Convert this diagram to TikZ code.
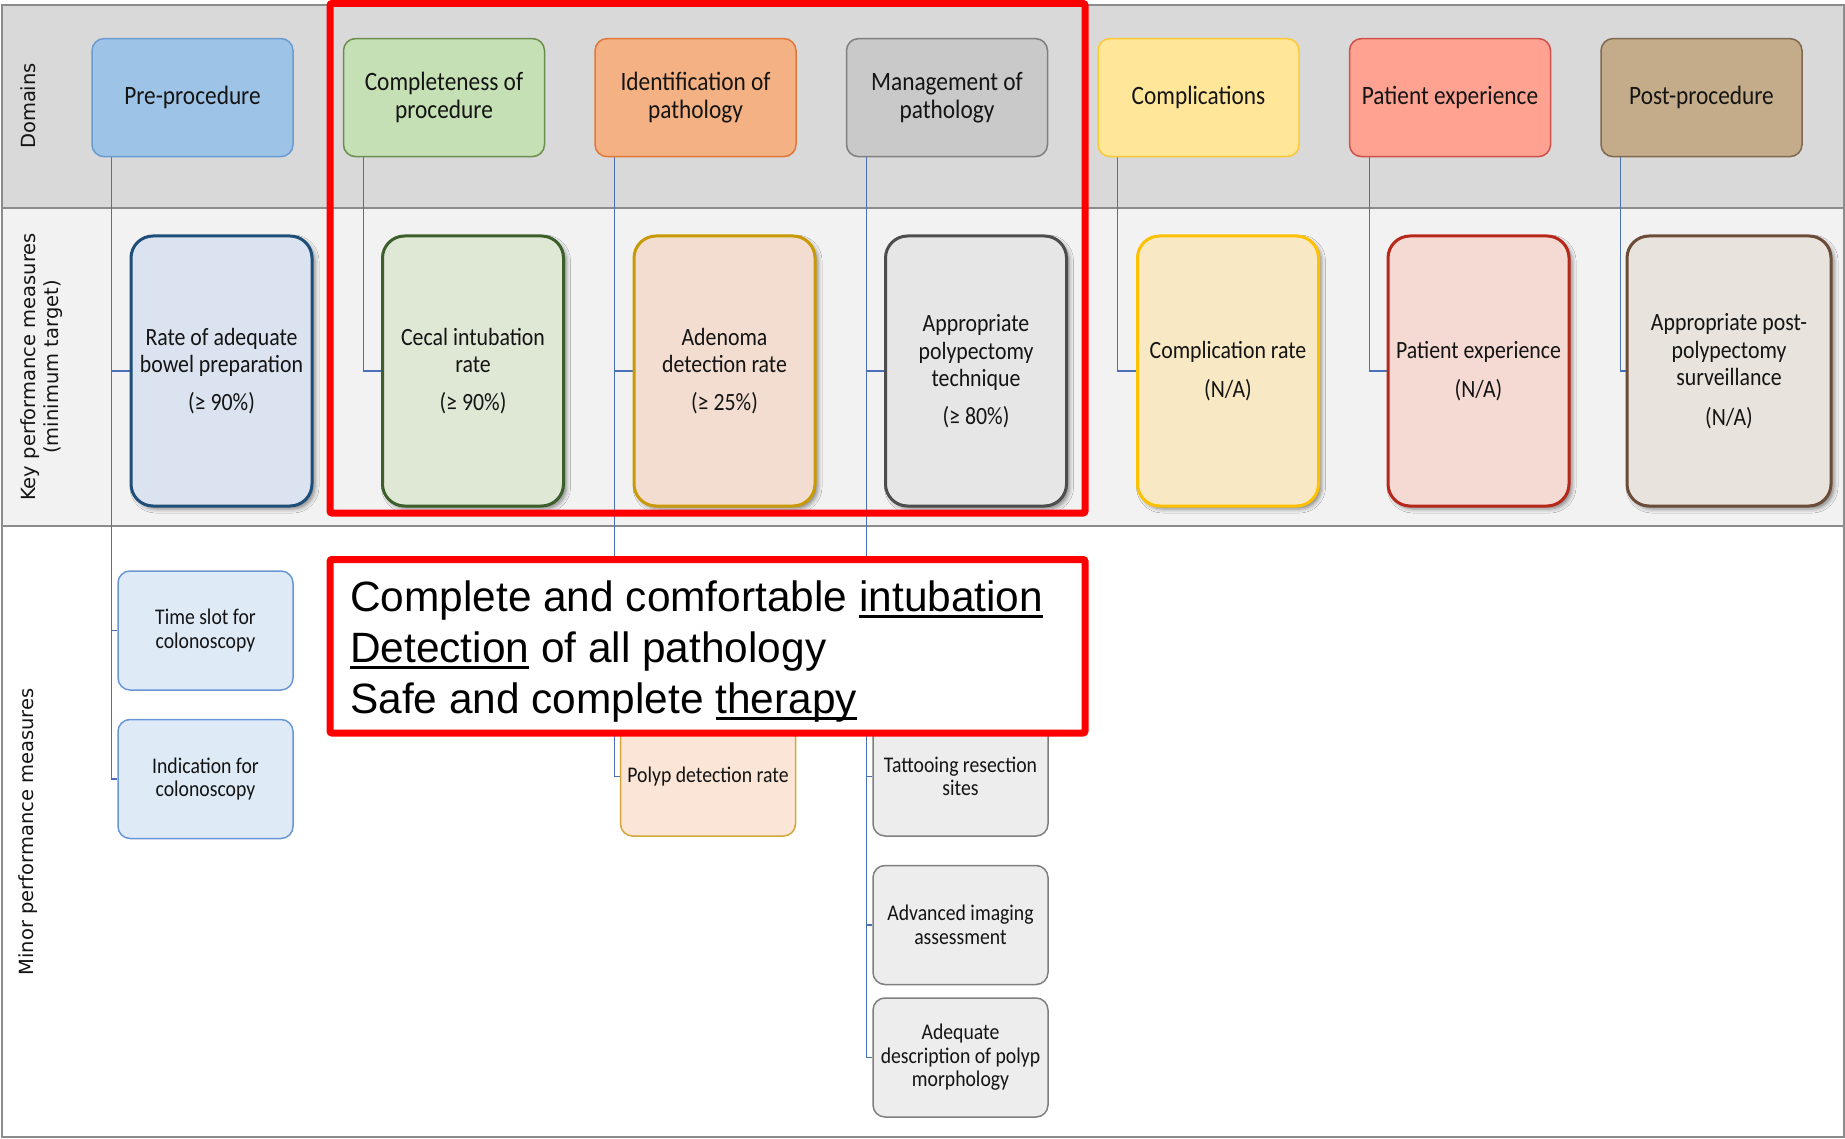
\documentclass[tikz,border=0pt]{standalone}
\usepackage{fontspec}
\setmainfont{Carlito}[FakeStretch=0.88]
\newfontfamily\sidelabelfont{DejaVu Sans}
\newfontfamily\calloutfont{Liberation Sans}
\usetikzlibrary{shadows.blur,backgrounds}

\definecolor{bandA}{HTML}{D9D9D9}
\definecolor{bandB}{HTML}{F2F2F2}
\definecolor{sepgray}{HTML}{8C8C8C}
\definecolor{txt}{HTML}{141414}
\definecolor{connblue}{HTML}{4A70B8}
\definecolor{hired}{HTML}{FF0000}
% domain colours
\definecolor{dAf}{HTML}{9DC3E6}\definecolor{dAd}{HTML}{6A9BD1}
\definecolor{dBf}{HTML}{C5E0B4}\definecolor{dBd}{HTML}{6B8E4E}
\definecolor{dCf}{HTML}{F4B183}\definecolor{dCd}{HTML}{E0783A}
\definecolor{dDf}{HTML}{C9C9C9}\definecolor{dDd}{HTML}{7F7F7F}
\definecolor{dEf}{HTML}{FFE699}\definecolor{dEd}{HTML}{FFC935}
\definecolor{dFf}{HTML}{FFA291}\definecolor{dFd}{HTML}{D0504A}
\definecolor{dGf}{HTML}{C4AC8A}\definecolor{dGd}{HTML}{7F6A50}
% key colours
\definecolor{kAf}{HTML}{DAE3EF}\definecolor{kAd}{HTML}{1F4E79}
\definecolor{kBf}{HTML}{DEE8D4}\definecolor{kBd}{HTML}{3C5F2C}
\definecolor{kCf}{HTML}{F2DDD0}\definecolor{kCd}{HTML}{C99A06}
\definecolor{kDf}{HTML}{E6E6E6}\definecolor{kDd}{HTML}{4D4D4D}
\definecolor{kEf}{HTML}{F8E8C3}\definecolor{kEd}{HTML}{FFC000}
\definecolor{kFf}{HTML}{F5DAD3}\definecolor{kFd}{HTML}{B8281A}
\definecolor{kGf}{HTML}{E8E3DD}\definecolor{kGd}{HTML}{6A4C38}
% minor colours
\definecolor{mAf}{HTML}{DEEBF7}\definecolor{mAd}{HTML}{6A96D8}
\definecolor{mCf}{HTML}{FBE5D6}\definecolor{mCd}{HTML}{D4A73A}
\definecolor{mDf}{HTML}{EDEDED}\definecolor{mDd}{HTML}{7F7F7F}

\newcommand\calloutul[1]{\leavevmode\setbox0\hbox{#1}\rlap{\rule[-6.5pt]{\wd0}{3pt}}\box0\relax}

\begin{document}
\begin{tikzpicture}[x=1pt,y=-1pt,
  dombox/.style={rounded corners=12pt, line width=1.5pt, minimum width=201pt, minimum height=118pt,
     align=center, inner sep=3pt, text=txt, font=\fontsize{26.5}{28.6}\selectfont},
  keybox/.style={rounded corners=22pt, line width=3pt, minimum width=181pt, minimum height=270pt,
     align=center, inner sep=3pt, text=txt, font=\fontsize{24.8}{27.5}\selectfont,
     blur shadow={shadow xshift=3pt, shadow yshift=-3pt, shadow blur radius=4pt, shadow opacity=45}},
  minbox/.style={rounded corners=12pt, line width=1.5pt, minimum width=175pt, minimum height=119pt,
     align=center, inner sep=3pt, text=txt, font=\fontsize{22.4}{23.5}\selectfont},
  sidelabel/.style={rotate=90, align=center, text=txt, font=\sidelabelfont\fontsize{19.5}{23}\selectfont},
  conn/.style={draw=connblue, line width=1.3pt},
  calloutbox/.style={draw=hired, line width=7pt, fill=white, rounded corners=2pt, outer sep=0pt, inner sep=0pt},
  callouttext/.style={anchor=base west, inner sep=0pt, text=black, font=\calloutfont\fontsize{42.4}{51}\selectfont}
]
\useasboundingbox (0,0) rectangle (1845,1139);

% ---------- side labels ----------
\node[sidelabel] (labdom) at (28,106) {Domains};
\node[sidelabel] (labkey) at (42,367) {Key performance measures\\(minimum target)};
\node[sidelabel] (labmin) at (28,832) {Minor performance measures};

% ---------- domains ----------
\node[dombox, fill=dAf, draw=dAd] (d1) at (192.5,97.6) {Pre-procedure};
\node[dombox, fill=dBf, draw=dBd] (d2) at (444,97.6) {Completeness of\\procedure};
\node[dombox, fill=dCf, draw=dCd] (d3) at (695.5,97.6) {Identification of\\pathology};
\node[dombox, fill=dDf, draw=dDd] (d4) at (947,97.6) {Management of\\pathology};
\node[dombox, fill=dEf, draw=dEd] (d5) at (1198.5,97.6) {Complications};
\node[dombox, fill=dFf, draw=dFd] (d6) at (1450,97.6) {Patient experience};
\node[dombox, fill=dGf, draw=dGd] (d7) at (1701.5,97.6) {Post-procedure};

% ---------- key performance measures ----------
\node[keybox, fill=kAf, draw=kAd] (k1) at (221.5,371) {Rate of adequate\\bowel preparation\\[10pt](≥ 90\%)};
\node[keybox, fill=kBf, draw=kBd] (k2) at (473,371) {Cecal intubation\\rate\\[10pt](≥ 90\%)};
\node[keybox, fill=kCf, draw=kCd] (k3) at (724.5,371) {Adenoma\\detection rate\\[10pt](≥ 25\%)};
\node[keybox, fill=kDf, draw=kDd] (k4) at (976,371) {Appropriate\\polypectomy\\technique\\[10pt](≥ 80\%)};
\node[keybox, fill=kEf, draw=kEd] (k5) at (1228,371) {Complication rate\\[12pt](N/A)};
\node[keybox, fill=kFf, draw=kFd] (k6) at (1478.5,371) {Patient experience\\[12pt](N/A)};
\node[keybox, fill=kGf, draw=kGd, minimum width=204pt] (k7) at (1729,371) {Appropriate post-\\polypectomy\\surveillance\\[12pt](N/A)};

% ---------- minor performance measures ----------
\node[minbox, fill=mAf, draw=mAd] (m1) at (205.5,630.5) {Time slot for\\colonoscopy};
\node[minbox, fill=mAf, draw=mAd] (m2) at (205.5,779) {Indication for\\colonoscopy};
\node[minbox, fill=mCf, draw=mCd] (m3) at (708,776.5) {Polyp detection rate};
\node[minbox, fill=mDf, draw=mDd] (m4) at (960.5,776.5) {Tattooing resection\\sites};
\node[minbox, fill=mDf, draw=mDd] (m5) at (960.5,925) {Advanced imaging\\assessment};
\node[minbox, fill=mDf, draw=mDd] (m6) at (960.5,1057.5) {Adequate\\description of polyp\\morphology};

% ---------- background: bands and connectors ----------
\begin{scope}[on background layer]
  \fill[bandA] (2,5) rectangle (1844,208);
  \fill[bandB] (2,208) rectangle (1844,526);
  \fill[white] (2,526) rectangle (1844,1137);
  \draw[sepgray, line width=1.5pt] (2,208) -- (1844,208);
  \draw[sepgray, line width=1.5pt] (2,526) -- (1844,526);
  \draw[sepgray, line width=1.2pt] (2,5) rectangle (1844,1137);
  % connectors
  \draw[conn] ([xshift=20.5pt]d1.south west) |- (k1.west);
  \draw[conn] ([xshift=20.5pt]d1.south west) |- (m1.west);
  \draw[conn] ([xshift=20.5pt]d1.south west) |- (m2.west);
  \draw[conn] ([xshift=20.5pt]d2.south west) |- (k2.west);
  \draw[conn] ([xshift=20.5pt]d3.south west) |- (k3.west);
  \draw[conn] ([xshift=20.5pt]d3.south west) |- (m3.west);
  \draw[conn] ([xshift=20.5pt]d4.south west) |- (k4.west);
  \draw[conn] ([xshift=20.5pt]d4.south west) |- (m4.west);
  \draw[conn] ([xshift=20.5pt]d4.south west) |- (m5.west);
  \draw[conn] ([xshift=20.5pt]d4.south west) |- (m6.west);
  \draw[conn] ([xshift=20.5pt]d5.south west) |- (k5.west);
  \draw[conn] ([xshift=20.5pt]d6.south west) |- (k6.west);
  \draw[conn] ([xshift=20.5pt]d7.south west) |- (k7.west);
\end{scope}

% ---------- red highlight frame ----------
\draw[hired, line width=7pt, rounded corners=2pt] (330,3.5) rectangle (1085,513);

% ---------- callout ----------
\node[calloutbox, anchor=north west, minimum width=755pt, minimum height=173.5pt] (callout) at (330,559.5) {};
\node[callouttext] (cl1) at (350,611.6) {Complete and comfortable \calloutul{intubation}};
\node[callouttext] (cl2) at (350,662.3) {\calloutul{Detection} of all pathology};
\node[callouttext] (cl3) at (350,713) {Safe and complete \calloutul{therapy}};
\end{tikzpicture}
\end{document}
